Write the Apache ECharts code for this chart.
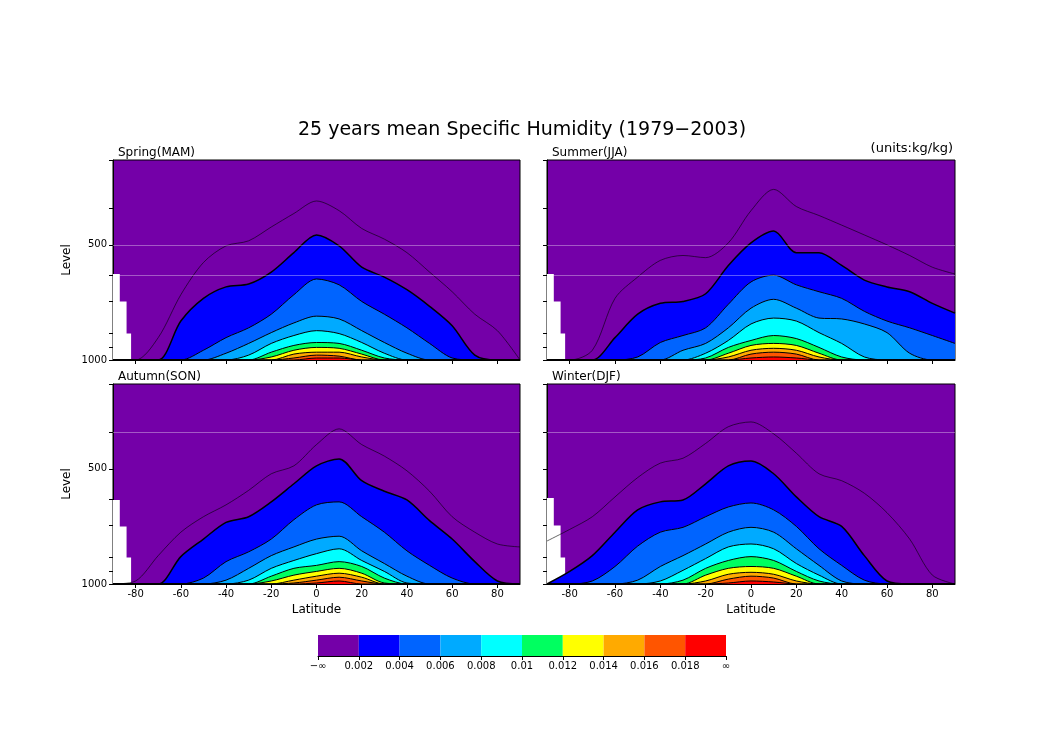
<!DOCTYPE html>
<html><head><meta charset="utf-8">
<script src="https://cdn.jsdelivr.net/npm/echarts@6/dist/echarts.min.js"></script>
<style>html,body{margin:0;padding:0;background:#fff}#c{width:1044px;height:739px}</style>
</head><body><div id="c"></div>
<script>
// Latitudes of data columns
const LATS = [-90,-80,-70,-60,-50,-40,-30,-20,-10,0,10,20,30,40,50,60,70,80,90];
const LEVELS = [0.002,0.004,0.006,0.008,0.010,0.012,0.014,0.016,0.018];
const COLORS = ['#7400a8','#0000ff','#0064ff','#00aaff','#00ffff','#00ff60','#ffff00','#ffaa00','#ff5500','#ff0000'];
const CB_LABELS = ['−∞','0.002','0.004','0.006','0.008','0.01','0.012','0.014','0.016','0.018','∞'];
const X_TICKS = [-80,-60,-40,-20,0,20,40,60,80];
const Y_LABELS = [500,1000];
const Y_TICKS = [1000,925,850,700,600,500,400,300];
const PANEL_TITLES = ['Spring(MAM)','Summer(JJA)','Autumn(SON)','Winter(DJF)'];

// Pressure (hPa) of each contour (0.001 thin line, then 0.002..0.018) at LATS; 1000 = not present
const spring_001 = [1000,1000,874,675,556,503,488,449,414,384,407,453,483,524,589,663,759,838,1000];
const spring_002 = [1000,1000,1000,791,690,644,633,589,524,471,503,572,607,655,724,814,971,1000,1000];
const spring_004 = [1000,1000,1000,1000,943,874,824,759,675,614,636,703,759,824,905,988,1000,1000,1000];
const spring_006 = [1000,1000,1000,1000,1000,960,905,848,800,768,781,838,900,960,1000,1000,1000,1000,1000];
const spring_008 = [1000,1000,1000,1000,1000,1000,971,905,863,838,853,900,960,1000,1000,1000,1000,1000,1000];
const spring_010 = [1000,1000,1000,1000,1000,1000,1000,954,916,900,905,943,988,1000,1000,1000,1000,1000,1000];
const spring_012 = [1000,1000,1000,1000,1000,1000,1000,982,943,927,932,965,1000,1000,1000,1000,1000,1000,1000];
const spring_014 = [1000,1000,1000,1000,1000,1000,1000,1000,965,954,954,982,1000,1000,1000,1000,1000,1000,1000];
const spring_016 = [1000,1000,1000,1000,1000,1000,1000,1000,988,971,977,1000,1000,1000,1000,1000,1000,1000,1000];
const spring_018 = [1000,1000,1000,1000,1000,1000,1000,1000,1000,988,988,1000,1000,1000,1000,1000,1000,1000,1000];

const summer_001 = [1000,1000,943,690,607,549,533,540,494,407,358,397,419,444,471,500,533,572,596];
const summer_002 = [1000,1000,1000,874,759,711,703,671,566,494,460,524,524,566,618,644,663,711,754];
const summer_004 = [1000,1000,1000,1000,982,900,863,824,715,625,600,636,663,690,746,791,824,863,905];
const summer_006 = [1000,1000,1000,1000,1000,1000,943,905,824,732,694,732,777,781,805,848,960,1000,1000];
const summer_008 = [1000,1000,1000,1000,1000,1000,1000,960,889,805,777,791,848,905,982,1000,1000,1000,1000];
const summer_010 = [1000,1000,1000,1000,1000,1000,1000,988,927,889,863,879,927,982,1000,1000,1000,1000,1000];
const summer_012 = [1000,1000,1000,1000,1000,1000,1000,1000,960,916,905,916,960,1000,1000,1000,1000,1000,1000];
const summer_014 = [1000,1000,1000,1000,1000,1000,1000,1000,982,943,932,943,982,1000,1000,1000,1000,1000,1000];
const summer_016 = [1000,1000,1000,1000,1000,1000,1000,1000,1000,965,954,965,1000,1000,1000,1000,1000,1000,1000];
const summer_018 = [1000,1000,1000,1000,1000,1000,1000,1000,1000,988,982,988,1000,1000,1000,1000,1000,1000,1000];

const autumn_001 = [1000,982,843,732,667,621,569,515,491,432,393,432,463,506,572,667,732,786,800];
const autumn_002 = [1000,1000,1000,848,763,690,667,610,547,491,471,537,572,603,683,763,874,982,1000];
const autumn_004 = [1000,1000,1000,1000,965,874,824,763,679,621,610,667,732,819,894,965,1000,1000,1000];
const autumn_006 = [1000,1000,1000,1000,1000,977,910,843,800,763,750,819,884,954,1000,1000,1000,1000,1000];
const autumn_008 = [1000,1000,1000,1000,1000,1000,977,910,868,833,809,868,927,994,1000,1000,1000,1000,1000];
const autumn_010 = [1000,1000,1000,1000,1000,1000,1000,954,910,894,874,900,965,1000,1000,1000,1000,1000,1000];
const autumn_012 = [1000,1000,1000,1000,1000,1000,1000,982,948,927,910,937,994,1000,1000,1000,1000,1000,1000];
const autumn_014 = [1000,1000,1000,1000,1000,1000,1000,1000,977,954,937,960,1000,1000,1000,1000,1000,1000,1000];
const autumn_016 = [1000,1000,1000,1000,1000,1000,1000,1000,994,977,960,982,1000,1000,1000,1000,1000,1000,1000];
const autumn_018 = [1000,1000,1000,1000,1000,1000,1000,1000,1000,994,982,1000,1000,1000,1000,1000,1000,1000,1000];

const winter_001 = [772,720,667,592,527,483,469,429,388,377,405,455,515,537,579,651,763,948,1000];
const winter_002 = [1000,927,843,732,640,610,603,547,491,477,515,592,667,707,843,982,1000,1000,1000];
const winter_004 = [1000,1000,982,900,796,732,711,667,629,614,640,707,809,894,977,1000,1000,1000,1000];
const winter_006 = [1000,1000,1000,1000,977,900,843,786,732,711,732,809,894,982,1000,1000,1000,1000,1000];
const winter_008 = [1000,1000,1000,1000,1000,982,921,858,800,786,809,884,948,1000,1000,1000,1000,1000,1000];
const winter_010 = [1000,1000,1000,1000,1000,1000,977,910,868,848,868,927,982,1000,1000,1000,1000,1000,1000];
const winter_012 = [1000,1000,1000,1000,1000,1000,1000,948,910,900,910,954,1000,1000,1000,1000,1000,1000,1000];
const winter_014 = [1000,1000,1000,1000,1000,1000,1000,982,943,932,943,982,1000,1000,1000,1000,1000,1000,1000];
const winter_016 = [1000,1000,1000,1000,1000,1000,1000,1000,971,954,965,1000,1000,1000,1000,1000,1000,1000,1000];
const winter_018 = [1000,1000,1000,1000,1000,1000,1000,1000,994,982,988,1000,1000,1000,1000,1000,1000,1000,1000];

// Missing-data (below ground) region near the South Pole: lat / pressure top
const MISS_LAT = [-90,-87,-87,-84,-84,-82,-82];
const MISS_P_SPRING = [596,596,703,703,853,853,1000];
const MISS_P_SUMMER = [596,596,703,703,853,853,1000];
const MISS_P_AUTUMN = [603,603,707,707,853,853,1000];
const MISS_P_WINTER = [596,596,703,703,853,853,1000];

const PANELS = [
  {t:PANEL_TITLES[0], thin:spring_001, lv:[spring_002,spring_004,spring_006,spring_008,spring_010,spring_012,spring_014,spring_016,spring_018], miss:MISS_P_SPRING, grid:{left:113,top:160,width:407,height:200}, gl:[500,600]},
  {t:PANEL_TITLES[1], thin:summer_001, lv:[summer_002,summer_004,summer_006,summer_008,summer_010,summer_012,summer_014,summer_016,summer_018], miss:MISS_P_SUMMER, grid:{left:547,top:160,width:408,height:200}, gl:[500,600]},
  {t:PANEL_TITLES[2], thin:autumn_001, lv:[autumn_002,autumn_004,autumn_006,autumn_008,autumn_010,autumn_012,autumn_014,autumn_016,autumn_018], miss:MISS_P_AUTUMN, grid:{left:113,top:384,width:407,height:200}, gl:[400]},
  {t:PANEL_TITLES[3], thin:winter_001, lv:[winter_002,winter_004,winter_006,winter_008,winter_010,winter_012,winter_014,winter_016,winter_018], miss:MISS_P_WINTER, grid:{left:547,top:384,width:408,height:200}, gl:[400]}
];

const FONT = 'DejaVu Sans';
const grids=[], xAxes=[], yAxes=[], series=[], titles=[];
titles.push({text:'25 years mean Specific Humidity (1979−2003)', left:'center', top:116, textStyle:{fontFamily:FONT,fontSize:19,fontWeight:'normal',color:'#000'}});
titles.push({text:'(units:kg/kg)', right:86, top:137, textStyle:{fontFamily:FONT,fontSize:13,fontWeight:'normal',color:'#000'}});

PANELS.forEach((P,i)=>{
  const g = P.grid;
  grids.push(Object.assign({show:true,backgroundColor:COLORS[0],borderColor:'#000',borderWidth:1,containLabel:false},g));
  titles.push({text:P.t,left:g.left,top:g.top-18,textStyle:{fontFamily:FONT,fontSize:12,fontWeight:'normal',color:'#000'}});
  const bottom = i>=2, left = (i%2===0);
  xAxes.push({gridIndex:i,type:'value',min:-90,max:90,
    name: bottom?'Latitude':'', nameLocation:'middle', nameGap:20, nameTextStyle:{fontFamily:FONT,fontSize:12,color:'#000'},
    axisLine:{onZero:false,lineStyle:{color:'#000'}},
    axisTick:{show:true,customValues:X_TICKS,length:4,lineStyle:{color:'#000'}},
    axisLabel:{show:bottom,customValues:X_TICKS,fontFamily:FONT,fontSize:10,color:'#000',margin:5},
    splitLine:{show:false}});
  yAxes.push({gridIndex:i,type:'log',logBase:10,inverse:true,min:300,max:1000,
    name: left?'Level':'', nameLocation:'middle', nameGap:40, nameTextStyle:{fontFamily:FONT,fontSize:12,color:'#000'},
    axisLine:{show:true,onZero:false,lineStyle:{color:'#000'}},
    axisTick:{show:true,customValues:Y_TICKS,length:4,lineStyle:{color:'#000'}},
    axisLabel:{show:left,customValues:Y_LABELS,formatter:v=>String(Math.round(v)),fontFamily:FONT,fontSize:10,color:'#000',margin:6},
    splitLine:{show:false},minorSplitLine:{show:false}});
  // missing data region
  series.push({type:'line',xAxisIndex:i,yAxisIndex:i,symbol:'none',silent:true,
    data:MISS_LAT.map((l,k)=>[l,P.miss[k]]),lineStyle:{width:0},
    areaStyle:{color:'#fff',opacity:1,origin:'end'},
    markLine:{silent:true,symbol:'none',label:{show:false},lineStyle:{color:'rgba(255,255,255,0.35)',type:'solid',width:1},data:P.gl.map(v=>({yAxis:v}))}});
  P.lv.forEach((arr,k)=>{
    series.push({type:'line',xAxisIndex:i,yAxisIndex:i,symbol:'none',silent:true,smooth:0.3,
      data:LATS.map((l,j)=>[l,arr[j]]),
      lineStyle:{color:'#000',width:k===0?1.5:1},
      areaStyle:{color:COLORS[k+1],opacity:1,origin:'end'}});
  });
  series.push({type:'line',xAxisIndex:i,yAxisIndex:i,symbol:'none',silent:true,smooth:0.3,
    data:LATS.map((l,j)=>[l,P.thin[j]]),lineStyle:{color:'#000',width:0.6}});
});

// colorbar
const CB = 4;
grids.push({left:318,top:635,width:408,height:21,show:false});
xAxes.push({gridIndex:CB,type:'value',min:0,max:10,interval:1,
  axisLine:{show:true,lineStyle:{color:'#000'}},axisTick:{show:true,length:4,lineStyle:{color:'#000'}},
  axisLabel:{formatter:v=>CB_LABELS[v],fontFamily:FONT,fontSize:10,color:'#000',margin:5},splitLine:{show:false}});
yAxes.push({gridIndex:CB,type:'category',data:['q'],show:false});
COLORS.forEach((c,k)=>{
  series.push({type:'bar',xAxisIndex:CB,yAxisIndex:CB,stack:'cb',barWidth:'100%',silent:true,data:[1],itemStyle:{color:c}});
});

const chart = echarts.init(document.getElementById('c'),null,{renderer:'canvas'});
chart.setOption({animation:false,backgroundColor:'#fff',title:titles,grid:grids,xAxis:xAxes,yAxis:yAxes,series:series});
</script></body></html>
